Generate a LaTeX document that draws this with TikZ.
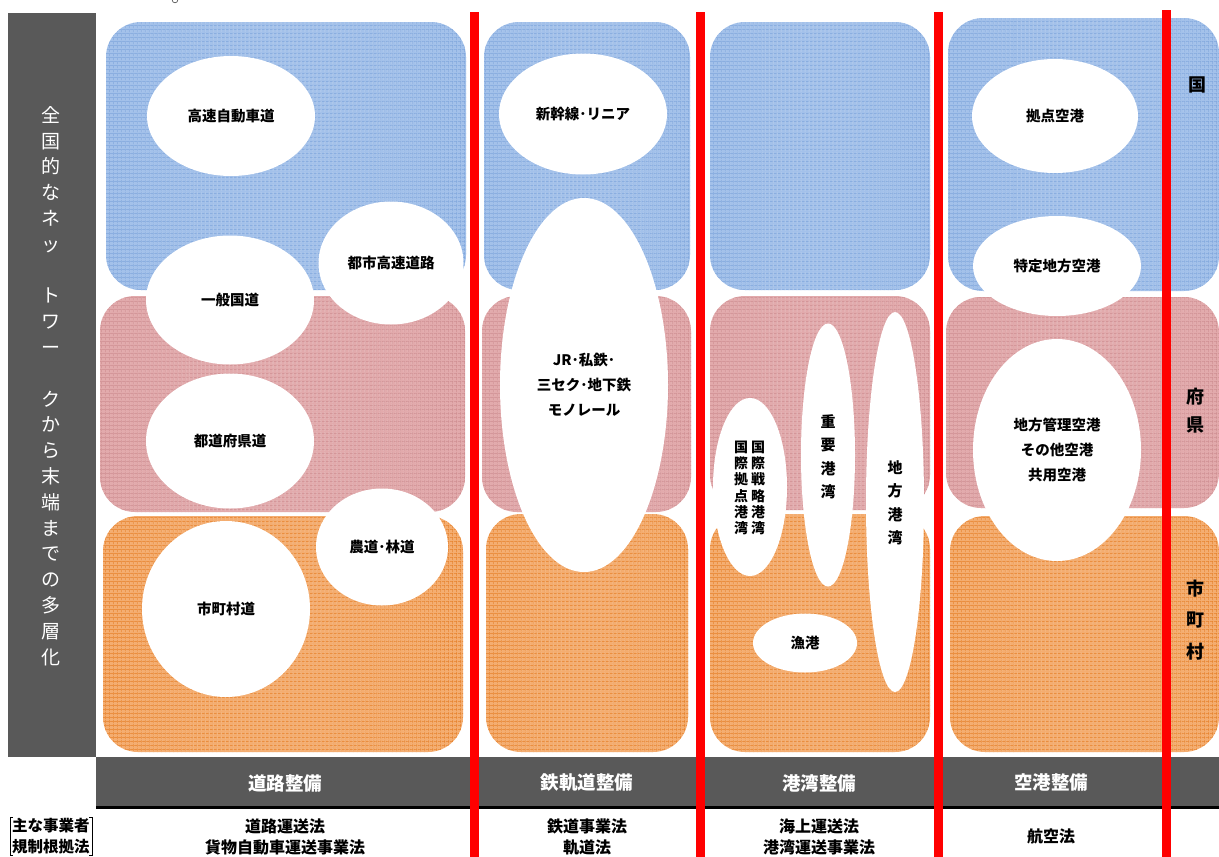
\documentclass[tikz,border=0pt]{standalone}
\usepackage{fontspec}
\setmainfont{Noto Sans CJK JP}
\usetikzlibrary{shapes.geometric,patterns.meta}
\definecolor{darkbar}{HTML}{595959}
\definecolor{blueB}{HTML}{A3C1EA}
\definecolor{blueL}{HTML}{7EA5DC}
\definecolor{pinkB}{HTML}{E2AAAC}
\definecolor{pinkL}{HTML}{CE8C8F}
\definecolor{oranB}{HTML}{F4AD70}
\definecolor{oranL}{HTML}{E67E25}
\definecolor{redline}{HTML}{FF0000}
\tikzset{
  gridfill/.style n args={2}{fill=#1,
    postaction={pattern={Lines[distance=4pt,angle=0,line width=0.8pt]},pattern color=#2},
    postaction={pattern={Lines[distance=4pt,angle=90,line width=0.8pt]},pattern color=#2}},
  tileB/.style={gridfill={blueB}{blueL}},
  tileP/.style={gridfill={pinkB}{pinkL}},
  tileO/.style={gridfill={oranB}{oranL}},
  ell/.style={ellipse,fill=white,inner sep=0pt,align=center,
    font=\fontsize{14.5}{25}\selectfont\bfseries},
  vtxt/.style={align=center,inner sep=0pt,font=\fontsize{14}{16.2}\selectfont\bfseries},
  vtxtb/.style={align=center,inner sep=0pt,font=\fontsize{15}{23.5}\selectfont\bfseries},
  sectlbl/.style={text=white,font=\fontsize{18.5}{20}\selectfont\bfseries},
  lawlbl/.style={align=center,font=\fontsize{16}{21}\selectfont\bfseries},
  levlbl/.style={align=center,inner sep=0pt,font=\fontsize{18}{30}\selectfont\bfseries},
  redsep/.style={draw=redline,line width=9pt}
}
\begin{document}
\begin{tikzpicture}[x=1pt,y=-1pt]
\useasboundingbox (0,0) rectangle (1219,857);
\fill[white] (0,0) rectangle (1219,857);
% small mark at top
\draw[gray!70!black,line width=0.7pt] (175,0) circle (2.8);
% left bar
\fill[darkbar] (8,13) rectangle (96,757);
\node[text=white,align=center,inner sep=0pt,font=\fontsize{19}{25.8}\selectfont] (lefttxt) at (51,386)
 {全\\国\\的\\な\\ネ\\ッ\\\mbox{}\\ト\\ワ\\ー\\\mbox{}\\ク\\か\\ら\\末\\端\\ま\\で\\の\\多\\層\\化};
% tiles
\begin{scope}[rounded corners=35pt]
\path[tileB] (106,22) rectangle (466,290);
\path[tileP] (100,296) rectangle (465,512);
\path[tileO] (103,516) rectangle (463,752);
\path[tileB] (484,22) rectangle (690,290);
\path[tileP] (482,296) rectangle (691,512);
\path[tileO] (486,514) rectangle (688,752);
\path[tileB] (710,22) rectangle (930,290);
\path[tileP] (710,296) rectangle (930,510);
\path[tileO] (710,514) rectangle (930,752);
\path[tileB] (948,18) rectangle (1219,291);
\path[tileP] (946,297) rectangle (1219,508);
\path[tileO] (950,516) rectangle (1219,752);
\end{scope}
% road ellipses
\node[ell,minimum width=168pt,minimum height=120pt] (kosoku) at (231,116) {高速自動車道};
\node[ell,minimum width=145pt,minimum height=123pt] (toshi) at (391,263) {都市高速道路};
\node[ell,minimum width=168pt,minimum height=129pt] (ippan) at (230,300) {一般国道};
\node[ell,minimum width=168pt,minimum height=135pt] (todofuken) at (230,441) {都道府県道};
\node[ell,minimum width=132pt,minimum height=117pt] (nodo) at (382,547) {農道･林道};
\node[ell,minimum width=168pt,minimum height=176pt] (shichoson) at (226,609) {市町村道};
% rail
\node[ell,minimum width=168pt,minimum height=121pt] (shinkansen) at (583,114) {新幹線･リニア};
\node[ell,minimum width=168pt,minimum height=374pt] (jr) at (584,385) {JR･私鉄･\\三セク･地下鉄\\モノレール};
% port
\node[ell,minimum width=74pt,minimum height=178pt] (kokusai) at (750,487) {};
\node[vtxt] (kokusaiA) at (758,488) {国\\際\\戦\\略\\港\\湾};
\node[vtxt] (kokusaiB) at (741,488) {国\\際\\拠\\点\\港\\湾};
\node[ell,minimum width=54pt,minimum height=263pt] (juyo) at (828,455) {};
\node[vtxtb] (juyoT) at (828,457) {重\\要\\港\\湾};
\node[ell,minimum width=58pt,minimum height=380pt] (chiho) at (895,502) {};
\node[vtxtb] (chihoT) at (895,503) {地\\方\\港\\湾};
\node[ell,minimum width=104pt,minimum height=59pt] (gyoko) at (805,643) {漁港};
% airport
\node[ell,minimum width=166pt,minimum height=114pt] (kyoten) at (1055,116) {拠点空港};
\node[ell,minimum width=168pt,minimum height=100pt] (tokutei) at (1057,266) {特定地方空港};
\node[ell,minimum width=168pt,minimum height=222pt] (chihokanri) at (1057,450) {地方管理空港\\その他空港\\共用空港};
% level labels
\node[levlbl] (kuni) at (1197,85) {国};
\node[levlbl,font=\fontsize{18}{28}\selectfont\bfseries] (fuken) at (1195,411) {府\\県};
\node[levlbl,font=\fontsize{18}{31.5}\selectfont\bfseries] (shi) at (1195,620) {市\\町\\村};
% bottom bar
\fill[darkbar] (96,757) rectangle (1219,806);
\draw[black,line width=2.5pt] (96,807.5) -- (1219,807.5);
\node[sectlbl] (s1) at (285,783) {道路整備};
\node[sectlbl] (s2) at (587,783) {鉄軌道整備};
\node[sectlbl] (s3) at (819,783) {港湾整備};
\node[sectlbl] (s4) at (1051,783) {空港整備};
\node[lawlbl] (l1) at (285,836.5) {道路運送法\\貨物自動車運送事業法};
\node[lawlbl] (l2) at (587,836.5) {鉄道事業法\\軌道法};
\node[lawlbl] (l3) at (819,836.5) {海上運送法\\港湾運送事業法};
\node[lawlbl] (l4) at (1051,836) {航空法};
% left bottom bracket label
\node[lawlbl,font=\fontsize{15.5}{21}\selectfont\bfseries] (jigyo) at (51,836) {主な事業者\\規制根拠法};
\draw[line width=1pt] (13,817) -- (10,817) -- (10,855) -- (13,855);
\draw[line width=1pt] (89,817) -- (92,817) -- (92,855) -- (89,855);
% red separators
\draw[redsep] (474,12) -- (474,857);
\draw[redsep] (700,12) -- (700,857);
\draw[redsep] (938,12) -- (938,857);
\draw[redsep] (1166,10) -- (1166,857);
\end{tikzpicture}
\end{document}
